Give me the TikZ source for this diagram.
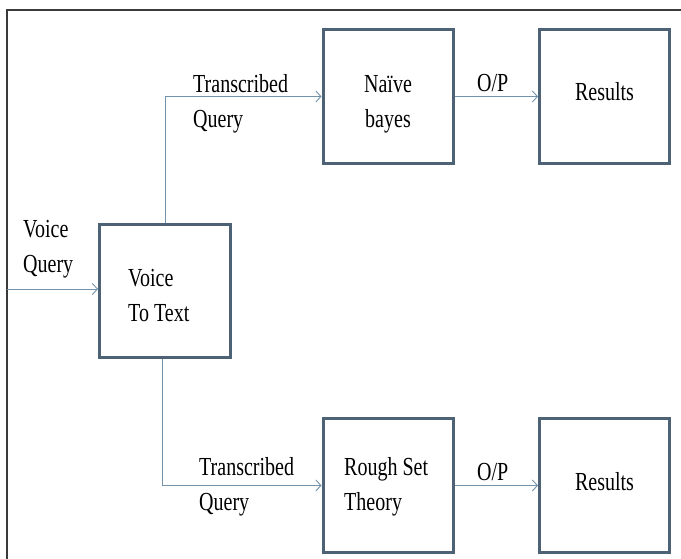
\documentclass[tikz,border=0pt]{standalone}
\usepackage{fontspec}
\setmainfont[FakeStretch=0.77]{Liberation Serif}
\usetikzlibrary{arrows.meta}
\definecolor{boxline}{HTML}{4D6375}
\definecolor{flowline}{HTML}{7392AB}
\definecolor{frameline}{HTML}{3A3A3A}
\begin{document}
\begin{tikzpicture}[x=1pt,y=-1pt,
  block/.style={draw=boxline, line width=3pt, fill=white, rectangle,
    minimum width=130pt, minimum height=134pt, inner sep=0pt},
  flow/.style={draw=flowline, line width=1pt,
    -{Straight Barb[length=5pt,width=11pt,line width=0.9pt]}},
  lbl/.style={inner sep=0pt, font=\fontsize{26}{35}\selectfont, text=black}]
  \useasboundingbox (0,0) rectangle (681,558);
  \clip (0,0) rectangle (681,558);
  \fill[white] (0,0) rectangle (681,558);

  % outer frame (runs off the right and bottom edges)
  \draw[frameline, line width=1.4pt] (7,600) -- (7,10) -- (720,10);

  % blocks
  \node[block, minimum width=131pt, minimum height=133pt] (vt) at (165,291) {};
  \node[block] (nb) at (388,96.5) {};
  \node[block] (r1) at (604.5,96.5) {};
  \node[block] (rs) at (388,485.5) {};
  \node[block] (r2) at (604.5,485.5) {};

  % connectors
  \coordinate (vin) at (7,289);
  \draw[flow] (vin) -- (vin -| vt.west);
  \draw[flow] (vt.north) |- (nb.west);
  \draw[flow] ([xshift=-3pt]vt.south) |- (rs.west);
  \draw[flow] (nb.east) -- (r1.west);
  \draw[flow] (rs.east) -- (r2.west);

  % labels (base anchor of a two-line label sits on its second line)
  \node[lbl, anchor=base west, align=left] (lq) at (23,272) {Voice\\Query};
  \node[lbl, anchor=base west, align=left] (lvt) at (128,321) {Voice\\To Text};
  \node[lbl, anchor=base west, align=left] (ltq1) at (193,127) {Transcribed\\Query};
  \node[lbl, anchor=base, align=center] (lnb) at (388,127) {Naïve\\bayes};
  \node[lbl, anchor=base west] (lop1) at (477,91) {O/P};
  \node[lbl, anchor=base] (lr1) at (604.5,100) {Results};
  \node[lbl, anchor=base west, align=left] (ltq2) at (199,510) {Transcribed\\Query};
  \node[lbl, anchor=base west, align=left] (lrs) at (344,510) {Rough Set\\Theory};
  \node[lbl, anchor=base west] (lop2) at (477,480) {O/P};
  \node[lbl, anchor=base] (lr2) at (604.5,490) {Results};
\end{tikzpicture}
\end{document}
